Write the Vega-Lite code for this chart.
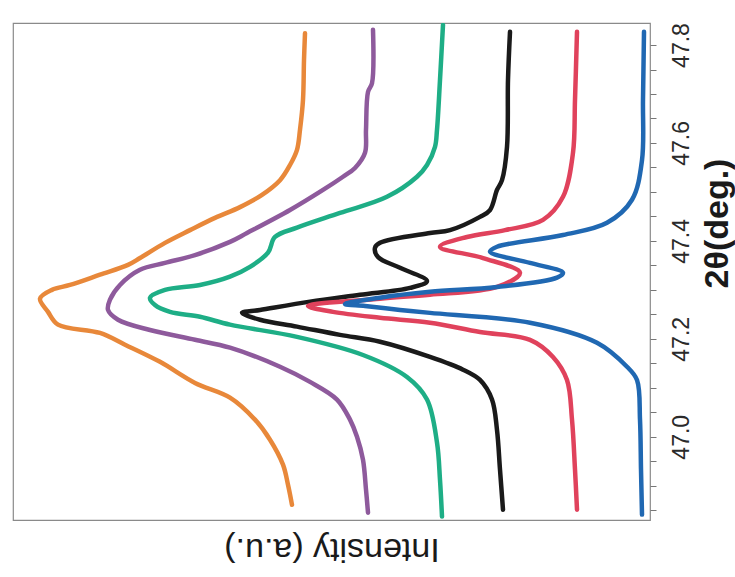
{
  "$schema": "https://vega.github.io/schema/vega-lite/v6.json",
  "width": 637,
  "height": 497,
  "autosize": {"type": "none"},
  "padding": {"left": 13, "top": 23, "right": 85, "bottom": 57},
  "background": "white",
  "config": {
    "view": {"stroke": "#8a8a8a", "strokeWidth": 1.2},
    "font": "Liberation Sans"
  },
  "datasets": {
    "xrd": [
      {"s":"s1","i":0,"I":345,"t":47.824},{"s":"s1","i":1,"I":346,"t":47.769},{"s":"s1","i":2,"I":347,"t":47.688},{"s":"s1","i":3,"I":350,"t":47.627},{"s":"s1","i":4,"I":353,"t":47.586},{"s":"s1","i":5,"I":360,"t":47.555},{"s":"s1","i":6,"I":370,"t":47.524},{"s":"s1","i":7,"I":388,"t":47.494},{"s":"s1","i":8,"I":410,"t":47.469},{"s":"s1","i":9,"I":435,"t":47.447},{"s":"s1","i":10,"I":460,"t":47.422},{"s":"s1","i":11,"I":485,"t":47.396},{"s":"s1","i":12,"I":510,"t":47.365},{"s":"s1","i":13,"I":522,"t":47.351},{"s":"s1","i":14,"I":550,"t":47.331},{"s":"s1","i":15,"I":580,"t":47.310},{"s":"s1","i":16,"I":598,"t":47.300},{"s":"s1","i":17,"I":610,"t":47.282},{"s":"s1","i":18,"I":602,"t":47.255},{"s":"s1","i":19,"I":592,"t":47.229},{"s":"s1","i":20,"I":550,"t":47.212},{"s":"s1","i":21,"I":525,"t":47.188},{"s":"s1","i":22,"I":490,"t":47.153},{"s":"s1","i":23,"I":455,"t":47.110},{"s":"s1","i":24,"I":420,"t":47.080},{"s":"s1","i":25,"I":395,"t":47.035},{"s":"s1","i":26,"I":380,"t":46.994},{"s":"s1","i":27,"I":367,"t":46.943},{"s":"s1","i":28,"I":362,"t":46.902},{"s":"s1","i":29,"I":358,"t":46.861},
      {"s":"s2","i":0,"I":277,"t":47.831},{"s":"s2","i":1,"I":278,"t":47.722},{"s":"s2","i":2,"I":282,"t":47.704},{"s":"s2","i":3,"I":284,"t":47.627},{"s":"s2","i":4,"I":285,"t":47.580},{"s":"s2","i":5,"I":295,"t":47.549},{"s":"s2","i":6,"I":307,"t":47.531},{"s":"s2","i":7,"I":327,"t":47.504},{"s":"s2","i":8,"I":360,"t":47.463},{"s":"s2","i":9,"I":403,"t":47.416},{"s":"s2","i":10,"I":420,"t":47.398},{"s":"s2","i":11,"I":455,"t":47.371},{"s":"s2","i":12,"I":485,"t":47.355},{"s":"s2","i":13,"I":510,"t":47.341},{"s":"s2","i":14,"I":530,"t":47.310},{"s":"s2","i":15,"I":540,"t":47.280},{"s":"s2","i":16,"I":542,"t":47.259},{"s":"s2","i":17,"I":532,"t":47.239},{"s":"s2","i":18,"I":500,"t":47.218},{"s":"s2","i":19,"I":455,"t":47.198},{"s":"s2","i":20,"I":420,"t":47.182},{"s":"s2","i":21,"I":370,"t":47.143},{"s":"s2","i":22,"I":340,"t":47.112},{"s":"s2","i":23,"I":313,"t":47.076},{"s":"s2","i":24,"I":300,"t":47.035},{"s":"s2","i":25,"I":293,"t":47.000},{"s":"s2","i":26,"I":287,"t":46.953},{"s":"s2","i":27,"I":284,"t":46.892},{"s":"s2","i":28,"I":282,"t":46.845},
      {"s":"s3","i":0,"I":207,"t":47.841},{"s":"s3","i":1,"I":210,"t":47.729},{"s":"s3","i":2,"I":213,"t":47.627},{"s":"s3","i":3,"I":215,"t":47.592},{"s":"s3","i":4,"I":223,"t":47.555},{"s":"s3","i":5,"I":233,"t":47.531},{"s":"s3","i":6,"I":263,"t":47.490},{"s":"s3","i":7,"I":310,"t":47.457},{"s":"s3","i":8,"I":353,"t":47.427},{"s":"s3","i":9,"I":375,"t":47.408},{"s":"s3","i":10,"I":382,"t":47.376},{"s":"s3","i":11,"I":400,"t":47.347},{"s":"s3","i":12,"I":420,"t":47.327},{"s":"s3","i":13,"I":450,"t":47.310},{"s":"s3","i":14,"I":485,"t":47.300},{"s":"s3","i":15,"I":500,"t":47.284},{"s":"s3","i":16,"I":495,"t":47.269},{"s":"s3","i":17,"I":480,"t":47.255},{"s":"s3","i":18,"I":450,"t":47.245},{"s":"s3","i":19,"I":420,"t":47.229},{"s":"s3","i":20,"I":353,"t":47.204},{"s":"s3","i":21,"I":287,"t":47.167},{"s":"s3","i":22,"I":243,"t":47.122},{"s":"s3","i":23,"I":223,"t":47.076},{"s":"s3","i":24,"I":213,"t":46.988},{"s":"s3","i":25,"I":210,"t":46.912},{"s":"s3","i":26,"I":208,"t":46.837},
      {"s":"s4","i":0,"I":140,"t":47.827},{"s":"s4","i":1,"I":142,"t":47.729},{"s":"s4","i":2,"I":143,"t":47.592},{"s":"s4","i":3,"I":148,"t":47.524},{"s":"s4","i":4,"I":153,"t":47.504},{"s":"s4","i":5,"I":160,"t":47.463},{"s":"s4","i":6,"I":170,"t":47.449},{"s":"s4","i":7,"I":200,"t":47.422},{"s":"s4","i":8,"I":220,"t":47.416},{"s":"s4","i":9,"I":270,"t":47.396},{"s":"s4","i":10,"I":275,"t":47.386},{"s":"s4","i":11,"I":272,"t":47.367},{"s":"s4","i":12,"I":250,"t":47.345},{"s":"s4","i":13,"I":223,"t":47.318},{"s":"s4","i":14,"I":240,"t":47.304},{"s":"s4","i":15,"I":290,"t":47.290},{"s":"s4","i":16,"I":340,"t":47.276},{"s":"s4","i":17,"I":390,"t":47.259},{"s":"s4","i":18,"I":408,"t":47.253},{"s":"s4","i":19,"I":390,"t":47.239},{"s":"s4","i":20,"I":353,"t":47.225},{"s":"s4","i":21,"I":310,"t":47.208},{"s":"s4","i":22,"I":270,"t":47.194},{"s":"s4","i":23,"I":220,"t":47.163},{"s":"s4","i":24,"I":187,"t":47.137},{"s":"s4","i":25,"I":170,"t":47.116},{"s":"s4","i":26,"I":158,"t":47.076},{"s":"s4","i":27,"I":153,"t":47.014},{"s":"s4","i":28,"I":150,"t":46.933},{"s":"s4","i":29,"I":147,"t":46.851},
      {"s":"s5","i":0,"I":73,"t":47.827},{"s":"s5","i":1,"I":75,"t":47.688},{"s":"s5","i":2,"I":77,"t":47.580},{"s":"s5","i":3,"I":87,"t":47.490},{"s":"s5","i":4,"I":107,"t":47.443},{"s":"s5","i":5,"I":145,"t":47.422},{"s":"s5","i":6,"I":183,"t":47.408},{"s":"s5","i":7,"I":210,"t":47.388},{"s":"s5","i":8,"I":167,"t":47.365},{"s":"s5","i":9,"I":130,"t":47.335},{"s":"s5","i":10,"I":153,"t":47.306},{"s":"s5","i":11,"I":220,"t":47.290},{"s":"s5","i":12,"I":270,"t":47.282},{"s":"s5","i":13,"I":342,"t":47.267},{"s":"s5","i":14,"I":317,"t":47.255},{"s":"s5","i":15,"I":270,"t":47.243},{"s":"s5","i":16,"I":220,"t":47.233},{"s":"s5","i":17,"I":170,"t":47.214},{"s":"s5","i":18,"I":120,"t":47.198},{"s":"s5","i":19,"I":97,"t":47.163},{"s":"s5","i":20,"I":83,"t":47.116},{"s":"s5","i":21,"I":78,"t":47.035},{"s":"s5","i":22,"I":75,"t":46.933},{"s":"s5","i":23,"I":73,"t":46.851},
      {"s":"s6","i":0,"I":6,"t":47.827},{"s":"s6","i":1,"I":7,"t":47.688},{"s":"s6","i":2,"I":8,"t":47.565},{"s":"s6","i":3,"I":18,"t":47.484},{"s":"s6","i":4,"I":43,"t":47.437},{"s":"s6","i":5,"I":87,"t":47.412},{"s":"s6","i":6,"I":153,"t":47.388},{"s":"s6","i":7,"I":160,"t":47.378},{"s":"s6","i":8,"I":120,"t":47.355},{"s":"s6","i":9,"I":87,"t":47.335},{"s":"s6","i":10,"I":93,"t":47.325},{"s":"s6","i":11,"I":153,"t":47.306},{"s":"s6","i":12,"I":220,"t":47.296},{"s":"s6","i":13,"I":270,"t":47.284},{"s":"s6","i":14,"I":305,"t":47.271},{"s":"s6","i":15,"I":285,"t":47.267},{"s":"s6","i":16,"I":250,"t":47.259},{"s":"s6","i":17,"I":220,"t":47.253},{"s":"s6","i":18,"I":120,"t":47.233},{"s":"s6","i":19,"I":53,"t":47.192},{"s":"s6","i":20,"I":23,"t":47.143},{"s":"s6","i":21,"I":13,"t":47.116},{"s":"s6","i":22,"I":10,"t":47.035},{"s":"s6","i":23,"I":9,"t":46.933},{"s":"s6","i":24,"I":8,"t":46.841}
    ]
  },
  "data": {"name": "xrd"},
  "mark": {"type": "line", "strokeWidth": 4.5, "strokeJoin": "round", "strokeCap": "round", "clip": true, "interpolate": "catmull-rom"},
  "encoding": {
    "x": {
      "field": "I", "type": "quantitative",
      "scale": {"domain": [0, 637], "reverse": true, "nice": false, "zero": false},
      "axis": {
        "title": "Intensity (a.u.)", "titleAngle": 180, "titleFontSize": 34, "titleFontWeight": "normal",
        "titleColor": "#1a1a1a", "titleY": 28, "titleBaseline": "middle", "titleAlign": "center",
        "labels": false, "ticks": false, "domain": false, "grid": false
      }
    },
    "y": {
      "field": "t", "type": "quantitative",
      "scale": {"domain": [46.83, 47.845], "nice": false, "zero": false},
      "axis": {
        "orient": "right",
        "values": [46.85, 46.9, 46.95, 47.0, 47.05, 47.1, 47.15, 47.2, 47.25, 47.3, 47.35, 47.4, 47.45, 47.5, 47.55, 47.6, 47.65, 47.7, 47.75, 47.8],
        "labelExpr": "(round(datum.value*100) % 20 == 0) ? format(datum.value, '.1f') : ''",
        "labelOverlap": false,
        "labelAngle": -90, "labelAlign": "center", "labelBaseline": "top",
        "labelFontSize": 23, "labelColor": "#2a2a2a", "labelPadding": 14,
        "tickSize": 6, "tickColor": "#777", "domain": false, "grid": false,
        "title": "2θ(deg.)", "titleAngle": -90, "titleFontSize": 34, "titleFontWeight": "bold",
        "titleColor": "#1a1a1a", "titleX": 67, "titleY": 200, "titleBaseline": "middle", "titleAlign": "center"
      }
    },
    "color": {
      "field": "s", "type": "nominal", "legend": null,
      "scale": {"domain": ["s1","s2","s3","s4","s5","s6"], "range": ["#e8883a","#8e5a9c","#1eae86","#1a1a1a","#e0425c","#2068b2"]}
    },
    "order": {"field": "i", "type": "quantitative"}
  }
}
